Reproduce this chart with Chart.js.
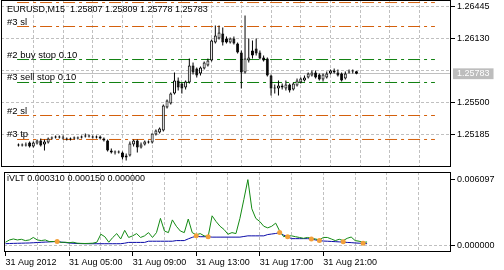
<!DOCTYPE html>
<html>
<head>
<meta charset="utf-8">
<script src="https://cdn.jsdelivr.net/npm/chart.js@4.4.1/dist/chart.umd.min.js"></script>
<style>
  html, body { margin: 0; padding: 0; background: #fff; }
  #wrap { position: relative; width: 504px; height: 270px; overflow: hidden; }
  #main { position: absolute; left: 0; top: 0; }
  #sub  { position: absolute; left: 0; top: 168px; }
</style>
</head>
<body>
<div id="wrap">
  <canvas id="main" width="504" height="168"></canvas>
  <canvas id="sub" width="504" height="102"></canvas>
</div>
<script>
/* ─── EURUSD M15 with iVLT sub-window ─────────────────────────────────── */

const TITLE_MAIN = 'EURUSD,M15  1.25807 1.25809 1.25778 1.25783';
const TITLE_SUB  = 'iVLT 0.000310 0.000150 0.000000';

// one entry per M15 bar, 01:00 .. 23:45
const OPEN = [
  1.25087,1.25077,1.25087,1.25107,1.25067,1.25097,1.25126,1.25087,1.25107,1.25146,
  1.25156,1.25166,1.25156,1.25146,1.25136,1.25146,1.25146,1.25156,1.25166,1.25175,
  1.25166,1.25156,1.25166,1.25146,1.25126,1.25028,1.25008,1.25018,1.25008,1.24959,
  1.24979,1.25087,1.25126,1.25058,1.25087,1.25116,1.25107,1.25185,1.25205,1.25225,
  1.25451,1.25490,1.25589,1.25717,1.25687,1.25648,1.25697,1.25864,1.25835,1.25786,
  1.25835,1.25864,1.25914,1.26091,1.26130,1.26179,1.26130,1.26091,1.26130,1.26081,
  1.25992,1.25795,1.25914,1.26012,1.26032,1.25992,1.25943,1.25933,1.25766,1.25648,
  1.25638,1.25667,1.25638,1.25677,1.25628,1.25667,1.25697,1.25717,1.25746,1.25766,
  1.25795,1.25776,1.25726,1.25746,1.25786,1.25815,1.25795,1.25786,1.25736,1.25795,
  1.25805,1.25807
];
const HIGH = [
  1.25097,1.25097,1.25107,1.25116,1.25116,1.25136,1.25146,1.25136,1.25156,1.25166,
  1.25175,1.25175,1.25175,1.25156,1.25156,1.25166,1.25166,1.25175,1.25195,1.25185,
  1.25175,1.25175,1.25175,1.25156,1.25136,1.25048,1.25028,1.25028,1.25018,1.24998,
  1.25116,1.25136,1.25136,1.25107,1.25126,1.25126,1.25195,1.25234,1.25254,1.25481,
  1.25530,1.25599,1.25795,1.25746,1.25697,1.25717,1.25933,1.25894,1.25845,1.25855,
  1.25904,1.25933,1.26120,1.26258,1.26258,1.26238,1.26150,1.26140,1.26150,1.26091,
  1.26012,1.26356,1.26130,1.26110,1.26130,1.26012,1.25963,1.25943,1.25776,1.25677,
  1.25717,1.25687,1.25717,1.25687,1.25697,1.25736,1.25746,1.25766,1.25795,1.25815,
  1.25815,1.25786,1.25786,1.25805,1.25825,1.25835,1.25825,1.25795,1.25805,1.25825,
  1.25825,1.25809
];
const LOW = [
  1.25067,1.25067,1.25067,1.25058,1.25058,1.25087,1.25067,1.25028,1.25097,1.25136,
  1.25146,1.25146,1.25136,1.25126,1.25126,1.25136,1.25136,1.25146,1.25156,1.25156,
  1.25146,1.25146,1.25136,1.25116,1.25018,1.24998,1.24989,1.24998,1.24940,1.24929,
  1.24969,1.25067,1.25008,1.25048,1.25077,1.25097,1.25097,1.25175,1.25195,1.25215,
  1.25441,1.25481,1.25579,1.25618,1.25589,1.25628,1.25687,1.25776,1.25746,1.25766,
  1.25825,1.25855,1.25904,1.26081,1.26120,1.26061,1.26081,1.26081,1.26071,1.25983,
  1.25638,1.25786,1.25894,1.25933,1.25963,1.25923,1.25904,1.25756,1.25569,1.25589,
  1.25569,1.25628,1.25618,1.25599,1.25618,1.25658,1.25687,1.25707,1.25736,1.25756,
  1.25736,1.25717,1.25707,1.25736,1.25776,1.25786,1.25756,1.25707,1.25726,1.25786,
  1.25786,1.25778
];
const CLOSE = [
  1.25077,1.25087,1.25077,1.25067,1.25107,1.25126,1.25077,1.25116,1.25146,1.25156,
  1.25166,1.25156,1.25146,1.25136,1.25146,1.25146,1.25156,1.25166,1.25175,1.25166,
  1.25156,1.25166,1.25146,1.25126,1.25028,1.25008,1.25018,1.25008,1.24959,1.24979,
  1.25097,1.25126,1.25058,1.25087,1.25116,1.25107,1.25195,1.25225,1.25244,1.25471,
  1.25520,1.25589,1.25717,1.25648,1.25638,1.25707,1.25864,1.25795,1.25766,1.25845,
  1.25894,1.25914,1.26110,1.26160,1.26189,1.26091,1.26091,1.26130,1.26081,1.25992,
  1.25795,1.25933,1.25943,1.25963,1.25983,1.25933,1.25914,1.25766,1.25638,1.25638,
  1.25667,1.25648,1.25677,1.25618,1.25687,1.25717,1.25736,1.25746,1.25786,1.25795,
  1.25746,1.25726,1.25776,1.25786,1.25815,1.25795,1.25766,1.25717,1.25786,1.25805,
  1.25807,1.25783
];

const TIME_TICKS  = [0, 16, 32, 48, 64, 80];
const TIME_LABELS = ['31 Aug 2012', '31 Aug 05:00', '31 Aug 09:00', '31 Aug 13:00', '31 Aug 17:00', '31 Aug 21:00'];
const X_TICKS     = [0, 8, 16, 24, 32, 40, 48, 56, 64, 72, 80, 88, 96, 104];

const PRICE_TICKS       = [1.25185, 1.25500, 1.25815, 1.26130, 1.26445];
const PRICE_TICK_LABELS = ['1.25185', '1.25500', '', '1.26130', '1.26445'];
const BID = 1.25783;

// pending orders and their stops
const LEVEL_PRICES = [1.26484, 1.26248, 1.25923, 1.25697, 1.25372, 1.25136];
const LEVEL_NAMES  = ['', '#3 sl', '#2 buy stop 0.10', '#3 sell stop 0.10', '#2 sl', '#3 tp'];
const LEVEL_KINDS  = ['tp', 'sl', 'stop', 'stop', 'sl', 'tp'];

// iVLT buffers
const VLT = [
  0.00029,0.00050,0.00059,0.00050,0.00056,0.00044,0.00050,0.00073,0.00050,0.00044,
  0.00050,0.00035,0.00035,0.00038,0.00027,0.00029,0.00024,0.00029,0.00020,0.00018,
  0.00017,0.00018,0.00020,0.00029,0.00103,0.00080,0.00029,0.00073,0.00109,0.00059,
  0.00139,0.00073,0.00088,0.00109,0.00073,0.00088,0.00118,0.00073,0.00118,0.00250,
  0.00133,0.00118,0.00236,0.00177,0.00133,0.00118,0.00244,0.00118,0.00097,0.00109,
  0.00088,0.00080,0.00274,0.00221,0.00177,0.00147,0.00103,0.00118,0.00109,0.00250,
  0.00427,0.006097,0.00339,0.00250,0.00221,0.00177,0.00162,0.00177,0.00206,0.00133,
  0.00080,0.00088,0.00088,0.00080,0.00073,0.00065,0.00073,0.00065,0.00059,0.00050,
  0.00073,0.00073,0.00059,0.00044,0.00056,0.00044,0.00065,0.00077,0.00044,0.00038,
  0.00027,0.00031
];
const VLT_MA = [
  0.00015,0.00017,0.00018,0.00019,0.00020,0.00021,0.00022,0.00024,0.00026,0.00028,
  0.00030,0.00032,0.00034,0.00035,0.00030,0.00026,0.00022,0.00019,0.00017,0.00016,
  0.00015,0.00015,0.00015,0.00015,0.00015,0.00015,0.00015,0.00015,0.00015,0.00015,
  0.00020,0.00027,0.00027,0.00027,0.00027,0.00027,0.00038,0.00038,0.00038,0.00038,
  0.00038,0.00038,0.00038,0.00044,0.00044,0.00044,0.00060,0.00074,0.00085,0.00080,
  0.00080,0.00080,0.00076,0.00076,0.00076,0.00076,0.00076,0.00076,0.00076,0.00076,
  0.00082,0.00088,0.00088,0.00088,0.00088,0.00088,0.00100,0.00105,0.00110,0.00118,
  0.00095,0.00080,0.00062,0.00062,0.00062,0.00062,0.00062,0.00059,0.00050,0.00044,
  0.00040,0.00038,0.00036,0.00034,0.00032,0.00030,0.00027,0.00025,0.00022,0.00020,
  0.00018,0.00015
];
const SIGNAL_BARS   = [13, 48, 51, 69, 71, 77, 79, 85, 90];
const SIGNAL_VALUES = [0.00035, 0.00088, 0.00080, 0.00118, 0.00080, 0.00059, 0.00044, 0.00033, 0.00019];
const SUB_TICKS = [0, 0.006097];

/* ── layout ─────────────────────────────────────────────────────────────── */
const X_MIN = -0.375, X_MAX = 112.125;         // 4 px per bar, right shift
const P_MAX = 1.26509, P_MIN = 1.248651;
const V_MAX = 0.006804, V_MIN = -0.000619;
const AXIS_W = 53;
const FONT = '"Liberation Sans", Arial, sans-serif';
const GRID_C = '#c0c0c0';

Chart.defaults.font.family = FONT;
Chart.defaults.font.size = 9;
Chart.defaults.color = '#000';

// keep edge labels from pushing the plot area in
function noPad(s) { s.paddingTop = 0; s.paddingBottom = 0; s.paddingLeft = 0; s.paddingRight = 0; }

function frame(ctx, a) {
  ctx.strokeStyle = '#000';
  ctx.lineWidth = 1;
  ctx.setLineDash([]);
  ctx.strokeRect(a.left + 0.5, a.top + 0.5, a.right - a.left - 1, a.bottom - a.top - 1);
}

const mainDecor = {
  id: 'mainDecor',
  afterDraw(chart) {
    const { ctx, chartArea, scales } = chart;
    ctx.save();
    ctx.fillStyle = '#000';
    ctx.font = '9px ' + FONT;
    ctx.textBaseline = 'alphabetic';
    ctx.fillText(TITLE_MAIN, 7, 12);
    ctx.font = '9.5px ' + FONT;
    LEVEL_NAMES.forEach((name, k) => {
      if (!name) return;
      const py = Math.round(scales.y.getPixelForValue(LEVEL_PRICES[k]));
      ctx.fillText(name, 7, py - 2);
    });
    frame(ctx, chartArea);
    ctx.restore();
  }
};

const subDecor = {
  id: 'subDecor',
  afterDraw(chart) {
    const { ctx, chartArea } = chart;
    ctx.save();
    ctx.fillStyle = '#000';
    ctx.font = '9px ' + FONT;
    ctx.fillText(TITLE_SUB, 7, 13);
    frame(ctx, chartArea);
    ctx.restore();
  }
};

const xAxis = (withLabels) => ({
  type: 'linear', min: X_MIN, max: X_MAX,
  afterBuildTicks: s => { s.ticks = X_TICKS.map(v => ({ value: v })); },
  afterFit: s => { s.height = withLabels ? 18 : 0; noPad(s); },
  border: { display: false, dash: [3, 2] },
  grid: {
    color: c => (c.tick && c.tick.value === 0) ? 'transparent' : GRID_C,
    drawTicks: withLabels, tickLength: 4,
    tickColor: c => (c.tick && TIME_TICKS.includes(c.tick.value)) ? '#000' : 'transparent',
    tickBorderDash: [],
  },
  ticks: {
    display: withLabels, autoSkip: false, maxRotation: 0, align: 'start', padding: 1,
    callback: v => { const k = TIME_TICKS.indexOf(v); return k >= 0 ? TIME_LABELS[k] : ''; },
  },
});

/* ── price window ───────────────────────────────────────────────────────── */
const bull = i => CLOSE[i] >= OPEN[i];

new Chart(document.getElementById('main'), {
  type: 'bar',
  data: {
    datasets: [
      {
        label: 'body', order: 0, grouped: false,
        data: OPEN.map((o, i) => ({ x: i, y: [o, CLOSE[i]] })),
        backgroundColor: c => bull(c.dataIndex) ? '#fff' : '#000',
        borderColor: '#000', borderWidth: 1, borderSkipped: false,
        barThickness: 3, minBarLength: 1, inflateAmount: 0,
      },
      {
        label: 'wick', order: 1, grouped: false,
        data: LOW.map((l, i) => ({ x: i, y: [l, HIGH[i]] })),
        backgroundColor: '#000', borderWidth: 0,
        barThickness: 1, minBarLength: 1, inflateAmount: 0,
      },
      ...LEVEL_PRICES.map((p, k) => ({
        type: 'line', label: LEVEL_NAMES[k] || 'level', order: 2,
        data: [{ x: X_MIN, y: p }, { x: X_MAX, y: p }],
        borderColor: LEVEL_KINDS[k] === 'stop' ? '#108010' : '#d4600c',
        borderWidth: 1, borderDash: [12, 4, 3, 4], pointRadius: 0,
      })),
    ],
  },
  options: {
    responsive: false, animation: false, events: [],
    layout: { padding: { left: 1, right: 0, top: 0, bottom: 1 } },
    plugins: { legend: { display: false }, tooltip: { enabled: false } },
    scales: {
      x: xAxis(false),
      y: {
        type: 'linear', position: 'right', min: P_MIN, max: P_MAX,
        afterBuildTicks: s => { s.ticks = [...PRICE_TICKS, BID].map(v => ({ value: v })); },
        afterFit: s => { s.width = AXIS_W; noPad(s); },
        border: { display: false, dash: c => (c.tick && c.tick.value === BID) ? [] : [3, 2] },
        grid: {
          color: GRID_C, tickLength: 4, tickBorderDash: [],
          tickColor: c => {
            if (!c.tick) return '#000';
            const k = PRICE_TICKS.indexOf(c.tick.value);
            return (k >= 0 && PRICE_TICK_LABELS[k]) ? '#000' : 'transparent';
          },
        },
        ticks: {
          autoSkip: false, padding: 2,
          color: c => (c.tick && c.tick.value === BID) ? '#fff' : '#000',
          showLabelBackdrop: c => !!(c.tick && c.tick.value === BID),
          backdropColor: '#bdbdbd',
          backdropPadding: { top: 0, bottom: 0, left: 4, right: 4 },
          callback: v => {
            if (v === BID) return BID.toFixed(5);
            const k = PRICE_TICKS.indexOf(v);
            return k >= 0 ? PRICE_TICK_LABELS[k] : '';
          },
        },
      },
    },
  },
  plugins: [mainDecor],
});

/* ── iVLT window ────────────────────────────────────────────────────────── */
new Chart(document.getElementById('sub'), {
  type: 'line',
  data: {
    datasets: [
      {
        label: 'signal', type: 'scatter', order: 0,
        data: SIGNAL_BARS.map((b, k) => ({ x: b, y: SIGNAL_VALUES[k] })),
        backgroundColor: '#f2a03a', borderWidth: 0, pointRadius: 2.5,
      },
      {
        label: 'VLT', order: 1,
        data: VLT.map((v, i) => ({ x: i, y: v })),
        borderColor: '#138a13', borderWidth: 1, pointRadius: 0, tension: 0,
      },
      {
        label: 'VLT MA', order: 2,
        data: VLT_MA.map((v, i) => ({ x: i, y: v })),
        borderColor: '#0a0aa8', borderWidth: 1, pointRadius: 0, tension: 0,
      },
    ],
  },
  options: {
    responsive: false, animation: false, events: [],
    layout: { padding: { left: 1, right: 0, top: 0, bottom: 0 } },
    plugins: { legend: { display: false }, tooltip: { enabled: false } },
    scales: {
      x: xAxis(true),
      y: {
        type: 'linear', position: 'right', min: V_MIN, max: V_MAX,
        afterBuildTicks: s => { s.ticks = SUB_TICKS.map(v => ({ value: v })); },
        afterFit: s => { s.width = AXIS_W; noPad(s); },
        border: { display: false, dash: [3, 2] },
        grid: {
          color: c => (c.tick && c.tick.value === 0) ? GRID_C : 'transparent',
          tickLength: 4, tickColor: '#000', tickBorderDash: [],
        },
        ticks: { autoSkip: false, padding: 2, callback: v => v.toFixed(6) },
      },
    },
  },
  plugins: [subDecor],
});
</script>
</body>
</html>
